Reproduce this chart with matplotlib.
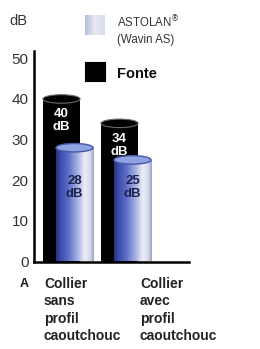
import numpy as np
import matplotlib
matplotlib.use("Agg")
import matplotlib.pyplot as plt
from matplotlib.patches import Ellipse
from matplotlib.colors import LinearSegmentedColormap

# data
categories = ["Collier\nsans\nprofil\ncaoutchouc", "Collier\navec\nprofil\ncaoutchouc"]
fonte_db = [40, 34]
astolan_db = [28, 25]
y_ticks = [0, 10, 20, 30, 40, 50]

W, H = 260, 349
fig = plt.figure(figsize=(W / 100, H / 100), dpi=100)

# axes placed in pixel terms of the reference
ax_l, ax_r, ax_t, ax_b = 34, 189, 51, 261.5
ax = fig.add_axes([ax_l / W, 1 - ax_b / H, (ax_r - ax_l) / W, (ax_b - ax_t) / H])
ax.set_xlim(-0.586, 2.086)
ax.set_ylim(0, 51.8)

px_per_unit_y = (ax_b - ax_t) / 51.8
bw = 0.64
off = 0.112
ell_h = 8.5 / px_per_unit_y

blue_cmap = LinearSegmentedColormap.from_list("cyl", [
    (0.0, "#28327c"), (0.1, "#3a48a8"), (0.32, "#5b6cc6"),
    (0.58, "#aab4e2"), (0.76, "#eceef6"), (0.9, "#d6d9e8"), (1.0, "#9ca2c4")])
grad = np.linspace(0, 1, 200).reshape(1, -1)

x = np.arange(len(categories))
for i in range(len(categories)):
    # fonte (black) cylinder
    xb = x[i] - off
    b = ax.bar(xb, fonte_db[i], width=bw, color="black", zorder=2 + 2 * i)[0]
    ax.add_patch(Ellipse((xb, fonte_db[i]), bw, ell_h, facecolor="black",
                         edgecolor="#6a6a6a", lw=0.8, zorder=2.1 + 2 * i))
    ax.text(xb, fonte_db[i] - 5.4, f"{fonte_db[i]}\ndB", color="white",
            ha="center", va="center", fontsize=9.5, fontweight="bold",
            family="Liberation Sans", linespacing=1.1, zorder=2.2 + 2 * i)

    # astolan (blue) cylinder
    xa = x[i] + off
    b2 = ax.bar(xa, astolan_db[i], width=bw, color="none", zorder=3 + 2 * i)[0]
    im = ax.imshow(grad, cmap=blue_cmap, aspect="auto",
                   extent=[xa - bw / 2, xa + bw / 2, 0, astolan_db[i]],
                   zorder=3 + 2 * i)
    im.set_clip_path(b2)
    ax.add_patch(Ellipse((xa, astolan_db[i]), bw, ell_h, facecolor="#8fa2e2",
                         edgecolor="#4656a8", lw=1.0, zorder=3.1 + 2 * i))
    ax.text(xa, 18.1, f"{astolan_db[i]}\ndB", color="#1c2250",
            ha="center", va="center", fontsize=9.5, fontweight="bold",
            family="Liberation Sans", linespacing=1.1, zorder=3.2 + 2 * i)

ax.set_xlim(-0.586, 2.086)
ax.set_ylim(0, 51.8)

for s in ["top", "right"]:
    ax.spines[s].set_visible(False)
ax.spines["left"].set_linewidth(1.8)
ax.spines["bottom"].set_linewidth(1.8)
ax.spines["left"].set_zorder(10)
ax.spines["bottom"].set_zorder(10)
ax.set_yticks(y_ticks)
ax.set_yticklabels([str(t) for t in y_ticks], fontsize=11, color="#333333",
                   family="Liberation Sans")
ax.tick_params(axis="y", length=0, pad=4)
ax.set_xticks([])

# unit label
fig.text(9 / W, 1 - 21 / H, "dB", fontsize=10.5, color="#333333",
         family="Liberation Sans", va="center", ha="left")

# category labels
fig.text(20 / W, 1 - 284 / H, "A", fontsize=9, fontweight="bold",
         family="Liberation Sans", va="center", ha="left", color="#1a1a1a")
for cx, lab in zip([44, 140], categories):
    fig.text(cx / W, 1 - 277 / H, lab, fontsize=10, fontweight="bold",
             family="Liberation Sans", va="top", ha="left", color="#222222",
             linespacing=1.3)

# legend
lax = fig.add_axes([85 / W, 1 - 35 / H, 20 / W, 20 / H])
lax.imshow(grad, cmap=LinearSegmentedColormap.from_list("lg", ["#b6bedc", "#e6e9f3", "#d8dce9"]),
           aspect="auto")
lax.axis("off")
kax = fig.add_axes([85 / W, 1 - 81 / H, 20 / W, 19 / H])
kax.set_facecolor("black")
kax.set_xticks([])
kax.set_yticks([])

fig.text(117 / W, 1 - 22 / H, "ASTOLAN$^{®}$", fontsize=8.3, color="#333333",
         family="Liberation Sans", va="center", ha="left")
fig.text(117 / W, 1 - 40 / H, "(Wavin AS)", fontsize=8.3, color="#333333",
         family="Liberation Sans", va="center", ha="left")
fig.text(117 / W, 1 - 74 / H, "Fonte", fontsize=10.5, fontweight="bold", color="#111111",
         family="Liberation Sans", va="center", ha="left")

fig.savefig("out.png", dpi=100)
